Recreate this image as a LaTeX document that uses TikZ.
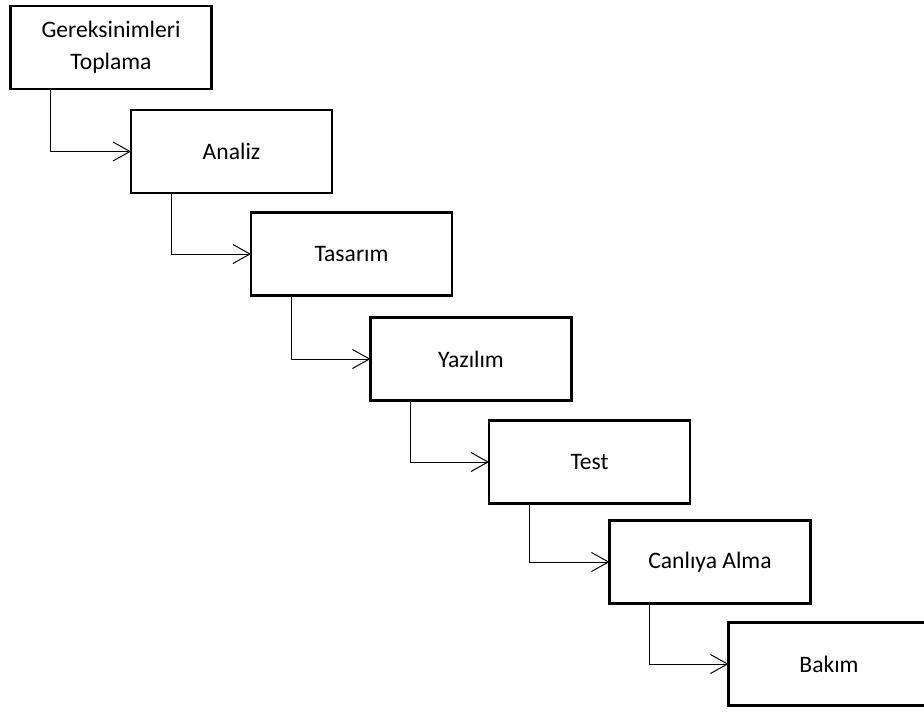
\documentclass[tikz,border=0pt]{standalone}
\usepackage{fontspec}
\setmainfont{Carlito}
\usepackage{tikz}
\usetikzlibrary{arrows.meta}

\begin{document}
\begin{tikzpicture}[x=0.5pt, y=-0.5pt, auto]%
  \tikzset{normal arrow/.style={draw,-{Straight Barb[length=8.5pt,width=9.5pt]},line width=0.5pt,black}}
  \tikzstyle{every node}=[draw=black, line width=1.3pt, rectangle, minimum width=100.5pt, minimum height=41.5pt, outer sep=0pt, inner sep=0pt, align=center, font=\fontsize{11.8}{16}\selectfont]

  \useasboundingbox (0,0) rectangle (924,711);

  \node at (111,47.5) (GT) {Gereksinimleri\\ Toplama};
  \node at (231.5,151.5) (AN) {Analiz};
  \node at (351.5,254) (TS) {Tasarım};
  \node at (471,359) (YZ) {Yazılım};
  \node at (589.5,462) (TE) {Test};
  \node at (710,562) (CA) {Canlıya Alma};
  \node at (829,664) (BK) {Bakım};

  % step down to the next phase
  \path[normal arrow] ([xshift=20pt]GT.south west) |- (AN);
  \path[normal arrow] ([xshift=20pt]AN.south west) |- (TS);
  \path[normal arrow] ([xshift=20pt]TS.south west) |- (YZ);
  \path[normal arrow] ([xshift=20pt]YZ.south west) |- (TE);
  \path[normal arrow] ([xshift=20pt]TE.south west) |- (CA);
  \path[normal arrow] ([xshift=20pt]CA.south west) |- (BK);
\end{tikzpicture}
\end{document}
